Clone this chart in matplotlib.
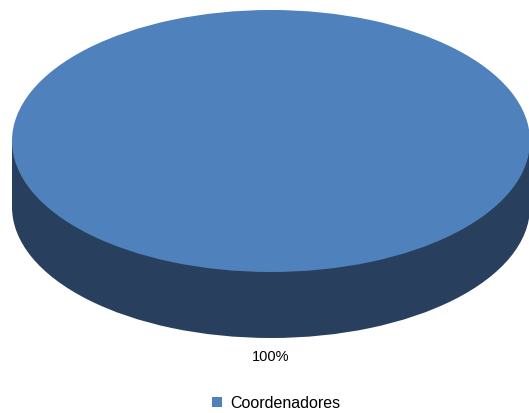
import matplotlib
matplotlib.use("Agg")
import matplotlib.pyplot as plt
from matplotlib.patches import Rectangle, Patch

categories = ["Coordenadores"]
values = [100]
top_color = "#4F81BD"
side_color = "#28405E"

W, H = 529, 413
fig = plt.figure(figsize=(W / 100, H / 100), dpi=100)
ax = fig.add_axes([0, 0, 1, 1])

# geometry (pixel units; y stretched so a circular pie appears elliptical)
cx, cy_px = 271, 141
rx, ry = 259, 131
depth_px = 66
k = rx / ry
cy = cy_px * k
depth = depth_px * k

# side (extrusion)
ax.pie(values, colors=[side_color], radius=rx, center=(cx, cy + depth),
       startangle=-90, counterclock=True, frame=True,
       wedgeprops=dict(linewidth=0))
ax.add_patch(Rectangle((cx - rx, cy), 2 * rx, depth, facecolor=side_color,
                       edgecolor="none", zorder=1))
# top face
wedges, texts, autotexts = ax.pie(
    values, colors=[top_color], radius=rx, center=(cx, cy),
    startangle=-90, counterclock=True, frame=True,
    autopct="%1.0f%%", pctdistance=(357 - cy_px) * k / rx,
    textprops=dict(fontsize=10.5, color="#000000", family=["Liberation Sans"]),
    wedgeprops=dict(linewidth=0, zorder=3))
for t in autotexts:
    t.set_zorder(5)

ax.set_aspect("auto")
ax.set_xlim(0, W)
ax.set_ylim(H * k, 0)
ax.axis("off")

handles = [Patch(facecolor=top_color, edgecolor="none")]
fig.legend(handles, categories, loc="center", bbox_to_anchor=(276 / W, 1 - 403 / H),
           frameon=False, handlelength=0.65, handleheight=0.65, handletextpad=0.5,
           prop=dict(family="Liberation Sans", size=11.5))

fig.savefig("out.png", dpi=100)
